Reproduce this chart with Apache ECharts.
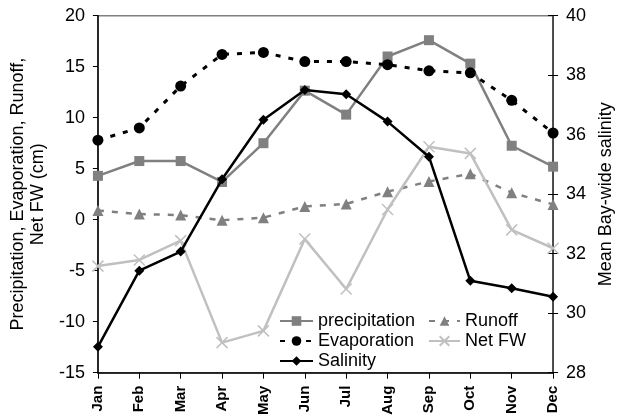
<!DOCTYPE html>
<html>
<head>
<meta charset="utf-8">
<script src="https://cdn.jsdelivr.net/npm/echarts@6/dist/echarts.min.js"></script>
<style>html,body{margin:0;padding:0;background:#fff}#c{width:623px;height:418px}</style>
</head>
<body>
<div id="c"></div>
<script>
var months = ['Jan','Feb','Mar','Apr','May','Jun','Jul','Aug','Sep','Oct','Nov','Dec'];
var precipitation = [4.3, 5.75, 5.75, 3.7, 7.5, 12.65, 10.3, 16.0, 17.6, 15.3, 7.25, 5.2];
var evaporation = [7.8, 9.0, 13.1, 16.2, 16.4, 15.5, 15.5, 15.2, 14.6, 14.4, 11.7, 8.5];
var runoff = [0.9, 0.55, 0.45, -0.05, 0.2, 1.3, 1.55, 2.75, 3.75, 4.5, 2.65, 1.5];
var netFW = [-4.55, -3.95, -2.05, -12.05, -10.9, -1.9, -6.8, 1.0, 7.15, 6.5, -1.0, -2.8];
var salinity = [28.87, 31.43, 32.07, 34.5, 36.5, 37.5, 37.36, 36.44, 35.26, 31.09, 30.84, 30.55];
var leftTicks = {min: -15, max: 20, interval: 5};
var rightTicks = {min: 28, max: 40, interval: 2};

var FONT = 'Liberation Sans, Arial, sans-serif';
var chart = echarts.init(document.getElementById('c'), null, {renderer: 'canvas'});
var xPath = 'path://M0,0L10,10M10,0L0,10';
chart.setOption({
  animation: false,
  backgroundColor: '#fff',
  textStyle: {fontFamily: FONT},
  grid: {left: 83.3, right: 58, top: 15.7, bottom: 45.3, show: true, borderColor: '#808080', borderWidth: 1.5, backgroundColor: 'transparent'},
  legend: [
    {data: ['precipitation', 'Evaporation', 'Salinity'], orient: 'vertical', left: 279, top: 311, padding: 0,
     itemWidth: 33, itemHeight: 12, itemGap: 0,
     textStyle: {fontSize: 18, fontFamily: FONT, color: '#000', lineHeight: 20}},
    {data: ['Runoff', 'Net FW'], orient: 'vertical', left: 428, top: 311, padding: 0,
     itemWidth: 31, itemHeight: 12, itemGap: 0,
     textStyle: {fontSize: 18, fontFamily: FONT, color: '#000', lineHeight: 20}}
  ],
  xAxis: {
    type: 'category', data: months, boundaryGap: false,
    axisLine: {onZero: false, lineStyle: {color: '#000', width: 1.5}},
    axisTick: {alignWithLabel: true, length: 6, lineStyle: {color: '#000', width: 1}},
    axisLabel: {rotate: 90, fontSize: 15, fontWeight: 'bold', color: '#000', fontFamily: FONT, margin: 13, interval: 0},
    splitLine: {show: false}
  },
  yAxis: [
    {type: 'value', position: 'left', min: leftTicks.min, max: leftTicks.max, interval: leftTicks.interval,
     name: 'Precipitation, Evaporation, Runoff,\nNet FW (cm)', nameLocation: 'middle', nameRotate: 90, nameGap: 29,
     nameTextStyle: {fontSize: 18, color: '#000', fontFamily: FONT, lineHeight: 20},
     axisLine: {show: true, lineStyle: {color: '#000', width: 1.5}},
     axisTick: {show: true, length: 5, lineStyle: {color: '#000', width: 1}},
     axisLabel: {fontSize: 18, color: '#000', fontFamily: FONT, margin: 13},
     splitLine: {show: false}},
    {type: 'value', position: 'right', min: rightTicks.min, max: rightTicks.max, interval: rightTicks.interval,
     name: 'Mean Bay-wide salinity', nameLocation: 'middle', nameRotate: 90, nameGap: 35,
     nameTextStyle: {fontSize: 18, color: '#000', fontFamily: FONT},
     axisLine: {show: true, lineStyle: {color: '#333', width: 1.5}},
     axisTick: {show: true, length: 5, lineStyle: {color: '#000', width: 1}},
     axisLabel: {fontSize: 18, color: '#000', fontFamily: FONT, margin: 13},
     splitLine: {show: false}},
    {type: 'value', position: 'right', min: rightTicks.min, max: rightTicks.max, interval: rightTicks.interval,
     axisLine: {show: false}, axisLabel: {show: false}, splitLine: {show: false},
     axisTick: {show: true, inside: true, length: 5, lineStyle: {color: '#000', width: 1}}}
  ],
  series: [
    {name: 'precipitation', type: 'line', data: precipitation, yAxisIndex: 0,
     symbol: 'rect', symbolSize: 10, lineStyle: {color: '#808080', width: 2.5},
     itemStyle: {color: '#808080'}, z: 3},
    {name: 'Runoff', type: 'line', data: runoff, yAxisIndex: 0,
     symbol: 'triangle', symbolSize: 11, lineStyle: {color: '#808080', width: 2.5, type: [6, 8]},
     itemStyle: {color: '#808080'}, z: 2},
    {name: 'Evaporation', type: 'line', data: evaporation, yAxisIndex: 0,
     symbol: 'circle', symbolSize: 11, lineStyle: {color: '#000', width: 3, type: [5, 8]},
     itemStyle: {color: '#000'}, z: 4},
    {name: 'Net FW', type: 'line', data: netFW, yAxisIndex: 0,
     symbol: xPath, symbolSize: 11, lineStyle: {color: '#c0c0c0', width: 2.5},
     itemStyle: {color: 'rgba(0,0,0,0)', borderColor: '#c0c0c0', borderWidth: 1.5}, z: 2},
    {name: 'Salinity', type: 'line', data: salinity, yAxisIndex: 1,
     symbol: 'diamond', symbolSize: 10, lineStyle: {color: '#000', width: 2.5},
     itemStyle: {color: '#000'}, z: 5}
  ]
});
</script>
</body>
</html>
